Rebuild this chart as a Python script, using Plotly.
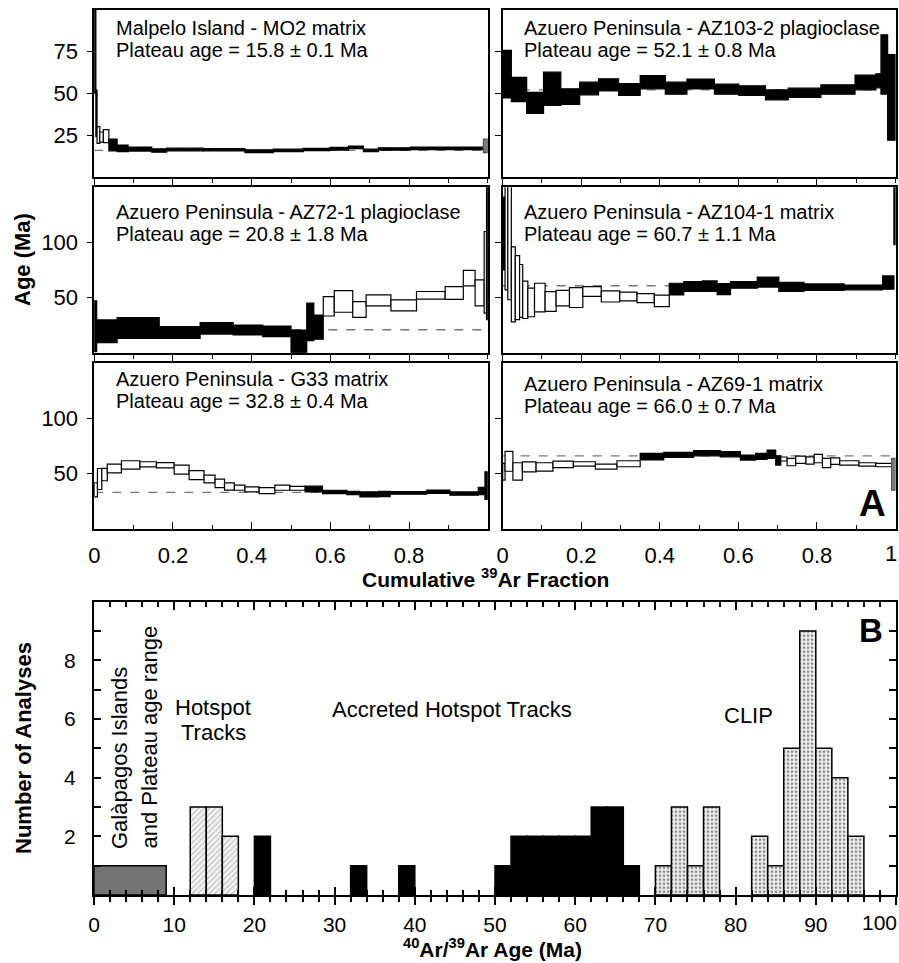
import plotly.graph_objects as go

FIG_W, FIG_H = 899, 963

# ---------------- Panel A: 40Ar/39Ar age spectra ----------------
# step edges (cumulative 39Ar fraction), step ages (Ma), half-heights (Ma),
# kind: 1 = plateau step (filled), 0 = rejected step (open), 2 = grey step
mo2_edges = [0, 0.004, 0.007, 0.014, 0.023, 0.037, 0.058, 0.086, 0.146, 0.184, 0.277,
             0.383, 0.455, 0.531, 0.599, 0.646, 0.684, 0.722, 0.803, 0.989, 1.0]
mo2_ages = [75, 38, 25, 23.8, 24.3, 19, 17, 16.6, 15.7, 16.3, 16.2, 15.3, 15.8, 16.3,
            16.8, 17.6, 15.8, 16.6, 17.0, 18.5]
mo2_errs = [25, 14, 5, 3, 3.9, 3.5, 2, 1.2, 1, 0.8, 0.7, 0.8, 0.7, 0.7, 0.8, 0.8, 0.7,
            0.7, 0.8, 4]
mo2_kinds = [1, 1, 0, 0, 0, 1, 1, 1, 1, 1, 1, 1, 1, 1, 1, 1, 1, 1, 1, 2]

az103_edges = [0, 0.022, 0.061, 0.104, 0.148, 0.196, 0.244, 0.295, 0.35, 0.414, 0.469,
               0.539, 0.601, 0.669, 0.727, 0.81, 0.897, 0.95, 0.963, 0.98, 1.0]
az103_ages = [61.5, 52.3, 44.3, 52.7, 48, 52.9, 55.1, 52.3, 56.7, 53.1, 55.6, 52.5, 51.6,
              49.1, 50.3, 52.3, 56.5, 57.5, 67.3, 47.6]
az103_errs = [14.3, 7.3, 6.3, 10, 4.7, 3.8, 3.6, 3.6, 4, 3.6, 3, 3, 2.9, 3, 2.8, 2.8,
              4.4, 4.2, 17.8, 25.7]
az103_kinds = [1] * 20

az72_edges = [0, 0.006, 0.058, 0.165, 0.269, 0.353, 0.428, 0.5, 0.54, 0.558, 0.582, 0.61,
              0.657, 0.691, 0.754, 0.819, 0.892, 0.938, 0.968, 0.991, 0.997, 1.0]
az72_ages = [24, 19.4, 22.4, 18.3, 22.1, 20.6, 19.4, 10.3, 27.9, 23.2, 42.1, 46.5, 39.2,
             47.4, 42.9, 52, 54.2, 67.6, 54.2, 72.9, 90]
az72_errs = [23, 10.3, 9.4, 5.3, 5.2, 4.5, 4.8, 10.3, 17, 11, 8.8, 9.8, 7.1, 5, 5, 3.5,
             5.8, 7, 11.8, 37, 60]
az72_kinds = [1] * 10 + [0] * 10 + [1]

az104_edges = [0, 0.006, 0.013, 0.022, 0.032, 0.043, 0.051, 0.064, 0.081, 0.108, 0.136,
               0.17, 0.204, 0.251, 0.298, 0.342, 0.386, 0.424, 0.461, 0.508, 0.546, 0.58,
               0.648, 0.703, 0.767, 0.869, 0.967, 0.996, 1.0]
az104_ages = [108, 105, 100, 62, 59, 56, 48, 45.6, 50, 46.4, 49.5, 50, 55.5, 51, 51, 49.5,
              47, 57.7, 60, 60.3, 57.7, 61.5, 64, 59.7, 59.4, 59.2, 63.6, 125]
az104_errs = [33, 48, 52, 34, 29, 24, 17, 13, 13, 9, 7, 9, 4.5, 5, 4, 4, 5.3, 5.3, 4.5,
              4.8, 5, 3, 4.5, 4.2, 3, 2.2, 6, 27]
az104_kinds = [1] + [0] * 16 + [1] * 11

g33_edges = [0, 0.008, 0.019, 0.033, 0.069, 0.116, 0.158, 0.203, 0.241, 0.279, 0.307,
             0.331, 0.356, 0.383, 0.419, 0.459, 0.497, 0.536, 0.58, 0.642, 0.675, 0.722,
             0.752, 0.845, 0.904, 0.976, 0.993, 1.0]
g33_ages = [35.2, 45, 49, 54.5, 57.7, 58.3, 57.4, 53.5, 48.5, 45, 41, 38.2, 37.1, 35.6,
            34.5, 37.1, 36.6, 35.9, 33.3, 32.4, 31, 31.5, 32.4, 33.5, 31.8, 34.2, 39]
g33_errs = [6.4, 9.5, 5.6, 4, 3.8, 2.3, 2.4, 4.1, 4, 3.5, 3.8, 3.3, 2.3, 2.3, 2.7, 2.3,
            1.8, 2.6, 1.5, 1.5, 2.3, 2.4, 1.2, 1.5, 1.5, 3.3, 12.5]
g33_kinds = [0] * 17 + [1] * 10

az69_edges = [0, 0.006, 0.026, 0.05, 0.085, 0.128, 0.18, 0.236, 0.291, 0.35, 0.41, 0.486,
              0.554, 0.605, 0.644, 0.673, 0.695, 0.708, 0.724, 0.746, 0.772, 0.793, 0.814,
              0.835, 0.858, 0.907, 0.95, 0.99, 1.0]
az69_ages = [51.5, 61, 51.8, 56, 55.9, 58.2, 58.6, 56.2, 58.8, 65.2, 66.8, 68.3, 67.4,
             64.4, 65.5, 67.4, 61.8, 63.1, 60.3, 62.4, 61.8, 63.5, 59.4, 61.2, 59.5, 58.2,
             57.6, 49.2]
az69_errs = [7.6, 9, 7.9, 4.5, 3.8, 3, 2, 2.3, 2.7, 3, 2.3, 2.3, 2.3, 2.3, 2.7, 3.8, 4.2,
             1.8, 3.3, 3.3, 3.3, 3.8, 4.2, 3, 2, 1.5, 1.5, 14.4]
az69_kinds = [0] * 9 + [1] * 8 + [0] * 10 + [2]

sample_titles = ["Malpelo Island - MO2 matrix",
                 "Azuero Peninsula - AZ103-2 plagioclase",
                 "Azuero Peninsula - AZ72-1 plagioclase",
                 "Azuero Peninsula - AZ104-1 matrix",
                 "Azuero Peninsula - G33 matrix",
                 "Azuero Peninsula - AZ69-1 matrix"]
plateau_ages = [15.8, 52.1, 20.8, 60.7, 32.8, 66.0]
plateau_errs = [0.1, 0.8, 1.8, 1.1, 0.4, 0.7]

spectra = [
    (mo2_edges, mo2_ages, mo2_errs, mo2_kinds),
    (az103_edges, az103_ages, az103_errs, az103_kinds),
    (az72_edges, az72_ages, az72_errs, az72_kinds),
    (az104_edges, az104_ages, az104_errs, az104_kinds),
    (g33_edges, g33_ages, g33_errs, g33_kinds),
    (az69_edges, az69_ages, az69_errs, az69_kinds),
]

frac_ticks = [0, 0.2, 0.4, 0.6, 0.8, 1.0]
frac_labels = ["0", "0.2", "0.4", "0.6", "0.8", "1"]
row_age_ranges = [[0, 100], [0, 150], [0, 150]]
row_age_ticks = [[25, 50, 75], [50, 100], [50, 100]]

# ---------------- Panel B: histogram ----------------
galapagos_range = [0, 9]
galapagos_count = [1]
hotspot_bins = [12, 14, 16]
hotspot_counts = [3, 3, 2]
accreted_bins = [20, 32, 38, 50, 52, 54, 56, 58, 60, 62, 64, 66]
accreted_counts = [2, 1, 1, 1, 2, 2, 2, 2, 2, 3, 3, 1]
clip_bins = [70, 72, 74, 76, 82, 84, 86, 88, 90, 92, 94]
clip_counts = [1, 3, 1, 3, 2, 1, 5, 9, 5, 4, 2]
bin_width = 2
age_ticks = [0, 10, 20, 30, 40, 50, 60, 70, 80, 90, 100]
age_labels = ["0", "10", "20", "30", "40", "50", "60", "70", "80", "90", "100"]
count_ticks = [2, 4, 6, 8]

# ---------------- layout geometry (pixels) ----------------
col_px = [(94.3, 487.7), (502.7, 895.5)]
row_px = [(10, 176.7), (187.3, 352.7), (363, 528.7)]
hist_x_px = (94.0, 896.0)
hist_y_px = (601.7, 895.0)
FONT = "Liberation Sans, Arial, sans-serif"


def fx(px):
    return px / FIG_W


def fy(py):
    return 1 - py / FIG_H


fig = go.Figure()
layout = dict(
    width=FIG_W, height=FIG_H, autosize=False,
    margin=dict(l=0, r=0, t=0, b=0, pad=0),
    paper_bgcolor="white", plot_bgcolor="white",
    showlegend=False, barmode="overlay",
    font=dict(family=FONT, color="black", size=20),
)
annotations = []
shapes = []

kind_fill = {1: "black", 0: "white", 2: "#7a7a7a"}
kind_line = {1: "black", 0: "black", 2: "#555555"}

for i, (edges, ages, errs, kinds) in enumerate(spectra):
    r, c = divmod(i, 2)
    n = i + 1
    xa = "x" if n == 1 else f"x{n}"
    ya = "y" if n == 1 else f"y{n}"
    lefts = edges[:-1]
    widths = [edges[k + 1] - edges[k] for k in range(len(lefts))]
    bases = [a - e for a, e in zip(ages, errs)]
    heights = [2 * e for e in errs]
    fig.add_trace(go.Bar(
        x=lefts, y=heights, base=bases, width=widths, offset=0,
        marker=dict(color=[kind_fill[k] for k in kinds],
                    line=dict(color=[kind_line[k] for k in kinds], width=1.2)),
        xaxis=xa, yaxis=ya, hoverinfo="skip"))
    # plateau-age dashed line
    shapes.append(dict(type="line", xref=f"{xa} domain", yref=ya, x0=0, x1=1,
                       y0=plateau_ages[i], y1=plateau_ages[i], layer="below",
                       line=dict(color="#777777", width=1.3, dash="dash")))
    x0, x1 = col_px[c]
    y0, y1 = row_px[r]
    last_row = (r == 2)
    if c == 1:
        tv = frac_ticks
        tt = frac_labels[:-1] + [""]   # last label drawn flush with page edge below
    else:
        tv = frac_ticks[:-1]
        tt = frac_labels[:-1]
    layout[f"xaxis{'' if n == 1 else n}"] = dict(
        domain=[fx(x0), fx(x1)], anchor=ya, range=[0, 1], automargin=False,
        showgrid=False, zeroline=False, showline=True, linecolor="black",
        linewidth=1.6, mirror=True,
        tickvals=tv, ticktext=tt,
        ticks="inside" if last_row else "outside", ticklen=7, tickwidth=1.3,
        tickcolor="black",
        minor=dict(dtick=0.1, tick0=0, ticks="inside" if last_row else "outside",
                   ticklen=4, tickwidth=1.3, tickcolor="black"),
        showticklabels=last_row, tickfont=dict(size=22, family=FONT),
        ticklabelstandoff=6,
    )
    layout[f"yaxis{'' if n == 1 else n}"] = dict(
        domain=[fy(y1), fy(y0)], anchor=xa, range=row_age_ranges[r], automargin=False,
        showgrid=False, zeroline=False, showline=True, linecolor="black",
        linewidth=1.6, mirror=True,
        tickvals=row_age_ticks[r], ticks="outside", ticklen=6, tickwidth=1.3,
        tickcolor="black",
        showticklabels=(c == 0), tickfont=dict(size=22, family=FONT),
        ticklabelstandoff=4,
    )

# text inside each spectrum panel
text_rows_px = [(27.7, 27.7), (211.7, 211.7), (378.7, 383.7)]
text_x_px = [114.3, 521.7]
for i in range(6):
    r, c = divmod(i, 2)
    ty = text_rows_px[r][c]
    annotations.append(dict(text=sample_titles[i], x=fx(text_x_px[c]), y=fy(ty),
                            xref="paper", yref="paper", xanchor="left", yanchor="middle",
                            showarrow=False, font=dict(size=20, family=FONT)))
    annotations.append(dict(
        text=f"Plateau age = {plateau_ages[i]:.1f} ± {plateau_errs[i]:.1f} Ma",
        x=fx(text_x_px[c]), y=fy(ty + 22.5), xref="paper", yref="paper",
        xanchor="left", yanchor="middle", showarrow=False,
        font=dict(size=20, family=FONT)))

# ---------------- histogram ----------------
hx, hy = "x7", "y7"
fig.add_trace(go.Bar(x=[galapagos_range[0]], y=galapagos_count,
                     width=[galapagos_range[1] - galapagos_range[0]], offset=0,
                     marker=dict(color="#747474", line=dict(color="black", width=1.5)),
                     xaxis=hx, yaxis=hy, hoverinfo="skip"))
fig.add_trace(go.Bar(x=hotspot_bins, y=hotspot_counts, width=bin_width, offset=0,
                     marker=dict(color="white", line=dict(color="black", width=1.5),
                                 pattern=dict(shape="/", fgcolor="#8c8c8c", bgcolor="#f4f4f4",
                                              size=4, solidity=0.3)),
                     xaxis=hx, yaxis=hy, hoverinfo="skip"))
fig.add_trace(go.Bar(x=accreted_bins, y=accreted_counts, width=bin_width, offset=0,
                     marker=dict(color="black", line=dict(color="black", width=1.5)),
                     xaxis=hx, yaxis=hy, hoverinfo="skip"))
fig.add_trace(go.Bar(x=clip_bins, y=clip_counts, width=bin_width, offset=0,
                     marker=dict(color="white", line=dict(color="black", width=1.5),
                                 pattern=dict(shape=".", fgcolor="#222222", bgcolor="#eeeeee",
                                              size=4, solidity=0.35)),
                     xaxis=hx, yaxis=hy, hoverinfo="skip"))
# empty trace so the inward-tick overlay axis is drawn
fig.add_trace(go.Scatter(x=[], y=[], xaxis="x8", yaxis=hy, hoverinfo="skip"))

hist_common = dict(domain=[fx(hist_x_px[0]), fx(hist_x_px[1])], range=[0, 100],
                   automargin=False,
                   showgrid=False, zeroline=False, showline=True, linecolor="black",
                   linewidth=2, tickvals=age_ticks, ticklen=8, tickwidth=1.5,
                   tickcolor="black")
layout["xaxis7"] = dict(**hist_common, anchor=hy, mirror=True, ticks="outside",
                        ticktext=age_labels[:-1] + [""],
                        minor=dict(dtick=2, tick0=0, ticks="outside", ticklen=5,
                                   tickwidth=1.5, tickcolor="black"),
                        tickfont=dict(size=21, family=FONT), ticklabelstandoff=2)
layout["xaxis8"] = dict(**hist_common, anchor=hy, overlaying="x7", mirror="ticks",
                        ticks="inside", showticklabels=False,
                        minor=dict(dtick=2, tick0=0, ticks="inside", ticklen=5,
                                   tickwidth=1.5, tickcolor="black"))
layout["yaxis7"] = dict(domain=[fy(hist_y_px[1]), fy(hist_y_px[0])], anchor=hx,
                        range=[0, 10], automargin=False,
                        showgrid=False, zeroline=False, showline=True,
                        linecolor="black", linewidth=2, mirror="ticks",
                        tickvals=count_ticks, ticks="inside", ticklen=7, tickwidth=1.5,
                        tickcolor="black",
                        minor=dict(dtick=1, tick0=0, ticks="inside", ticklen=7,
                                   tickwidth=1.5, tickcolor="black"),
                        tickfont=dict(size=21, family=FONT), ticklabelstandoff=12)

# helper for free text
def ann(text, x, y, size=21, bold=False, angle=0, xanchor="center", yanchor="middle"):
    annotations.append(dict(text=f"<b>{text}</b>" if bold else text,
                            x=fx(x), y=fy(y), xref="paper", yref="paper",
                            xanchor=xanchor, yanchor=yanchor, showarrow=False,
                            textangle=angle, font=dict(size=size, family=FONT)))

# last tick labels at the right page edge (flush so they are not clipped)
ann(frac_labels[-1], FIG_W, 553, size=22, xanchor="right")
ann(age_labels[-1], FIG_W, 922, size=21, xanchor="right")

ann("Galàpagos Islands", 119, 851, size=22, angle=-90, yanchor="bottom")
ann("and Plateau age range", 149, 851, size=22, angle=-90, yanchor="bottom")
ann("Hotspot", 213, 707, size=22)
ann("Tracks", 213, 732, size=22)
ann("Accreted Hotspot Tracks", 452, 709, size=22)
ann("CLIP", 748, 715, size=22)
ann("B", 871, 630, size=33, bold=True)
ann("A", 872, 503, size=37, bold=True)

# axis titles
ann("Cumulative <sup>39</sup>Ar Fraction", 486, 578, size=21, bold=True)
ann("<sup>40</sup>Ar/<sup>39</sup>Ar Age (Ma)", 493, 948, size=21, bold=True)
ann("Age (Ma)", 23, 260, size=22, bold=True, angle=-90)
ann("Number of Analyses", 23, 748, size=22, bold=True, angle=-90)

layout["annotations"] = annotations
layout["shapes"] = shapes
fig.update_layout(**layout)
fig.write_html("out.html",
               config={"displayModeBar": False},
               post_script="document.body.style.margin='0';"
                           "document.body.style.overflow='hidden';")
